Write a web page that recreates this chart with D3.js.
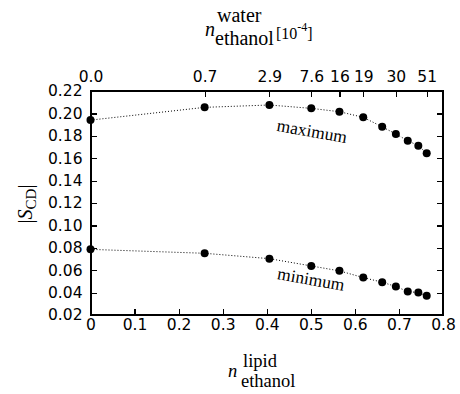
<!DOCTYPE html>
<html>
<head>
<meta charset="utf-8">
<style>
body { margin: 0; background: white; }
svg { display: block; }
.axis path, .axis line { stroke: #000; stroke-width: 1.2px; shape-rendering: crispEdges; }
.axis text { font-family: "DejaVu Sans", sans-serif; font-size: 15.5px; fill: #000; }
</style>
<script src="https://d3js.org/d3.v7.min.js"></script>
</head>
<body>
<svg width="460" height="394"></svg>
<script>
// lipid-phase ethanol fraction (bottom axis)
const xLipid = [0, 0.259, 0.406, 0.501, 0.565, 0.619, 0.662, 0.693, 0.720, 0.744, 0.763];
// |S_CD| maximum and minimum order parameters
const sMax = [0.194, 0.2054, 0.2075, 0.2045, 0.2015, 0.1965, 0.188, 0.1816, 0.1756, 0.1712, 0.1644];
const sMin = [0.0786, 0.0751, 0.0703, 0.0638, 0.0594, 0.0534, 0.0493, 0.0454, 0.041, 0.040, 0.0371];
// top axis: water-phase ethanol fraction [10^-4]
const topTickPos = [0, 0.259, 0.406, 0.501, 0.565, 0.619, 0.693, 0.763];
const topTickLabels = ["0.0", "0.7", "2.9", "7.6", "16", "19", "30", "51"];
const bottomTicks = [0, 0.1, 0.2, 0.3, 0.4, 0.5, 0.6, 0.7, 0.8];
const leftTicks = [0.02, 0.04, 0.06, 0.08, 0.10, 0.12, 0.14, 0.16, 0.18, 0.20, 0.22];

const SERIF = "'Liberation Serif', 'Times New Roman', serif";

const svg = d3.select('svg');
const margin = { top: 91, right: 17, bottom: 79, left: 90.5 };
const width = 460 - margin.left - margin.right;
const height = 394 - margin.top - margin.bottom;
const g = svg.append('g').attr('transform', `translate(${margin.left},${margin.top})`);

const x = d3.scaleLinear().domain([0, 0.8]).range([0, width]);
const y = d3.scaleLinear().domain([0.02, 0.22]).range([height, 0]);

// axes, ticks pointing inward
g.append('g').attr('class', 'axis')
  .attr('transform', `translate(0,${height})`)
  .call(d3.axisBottom(x).tickValues(bottomTicks).tickFormat(d => d === 0 ? '0' : d3.format('.1f')(d))
    .tickSizeInner(-6).tickSizeOuter(0).tickPadding(4));

g.append('g').attr('class', 'axis')
  .call(d3.axisTop(x).tickValues(topTickPos).tickFormat((d, i) => topTickLabels[i])
    .tickSizeInner(-6).tickSizeOuter(0).tickPadding(9));

g.append('g').attr('class', 'axis')
  .call(d3.axisLeft(y).tickValues(leftTicks).tickFormat(d3.format('.2f'))
    .tickSizeInner(-6).tickSizeOuter(0).tickPadding(8));

g.append('g').attr('class', 'axis')
  .attr('transform', `translate(${width},0)`)
  .call(d3.axisRight(y).tickValues(leftTicks).tickFormat('')
    .tickSizeInner(-6).tickSizeOuter(0));

// frame
g.append('rect')
  .attr('width', width).attr('height', height)
  .attr('fill', 'none').attr('stroke', '#000').attr('stroke-width', 1.2)
  .attr('shape-rendering', 'crispEdges');

const series = [
  { id: 'max', values: sMax },
  { id: 'min', values: sMin }
];

series.forEach(s => {
  const pts = xLipid.map((v, i) => [v, s.values[i]]);
  g.append('path')
    .datum(pts)
    .attr('d', d3.line().x(d => x(d[0])).y(d => y(d[1])))
    .attr('fill', 'none')
    .attr('stroke', '#000')
    .attr('stroke-width', 1)
    .attr('stroke-dasharray', '1,2');
  g.selectAll(`.dot-${s.id}`)
    .data(pts)
    .enter().append('circle')
    .attr('cx', d => x(d[0]))
    .attr('cy', d => y(d[1]))
    .attr('r', 4)
    .attr('fill', '#000');
});

function serifText(px, py, size, str) {
  return svg.append('text')
    .style('font-family', SERIF)
    .attr('fill', '#000')
    .attr('x', px).attr('y', py)
    .attr('font-size', size)
    .text(str);
}

// curve labels
serifText(0, 0, 17.5, 'maximum')
  .attr('transform', 'translate(311,137) rotate(10)').attr('text-anchor', 'middle');
serifText(0, 0, 17.5, 'minimum')
  .attr('transform', 'translate(310,285) rotate(10)').attr('text-anchor', 'middle');

// y label |S_CD|
const yl = serifText(0, 0, 20, null)
  .attr('transform', 'translate(32,204) rotate(-90)')
  .attr('text-anchor', 'middle');
yl.append('tspan').text('|');
yl.append('tspan').attr('font-style', 'italic').text('S');
yl.append('tspan').attr('font-size', 15).attr('dy', 4).text('CD');
yl.append('tspan').attr('dy', -4).text('|');

// bottom label
serifText(243, 367, 18.5, 'lipid');
serifText(228, 377, 18.5, 'n').attr('font-style', 'italic');
serifText(241, 387, 18.5, 'ethanol');

// top label
serifText(217, 22, 20, 'water');
serifText(205, 36, 20, 'n').attr('font-style', 'italic');
serifText(215, 45, 20, 'ethanol');
const tl = serifText(276, 39, 16, null);
tl.append('tspan').text('[10');
tl.append('tspan').attr('font-size', 12).attr('dy', -8).text('-4');
tl.append('tspan').attr('dy', 8).text(']');
</script>
</body>
</html>
